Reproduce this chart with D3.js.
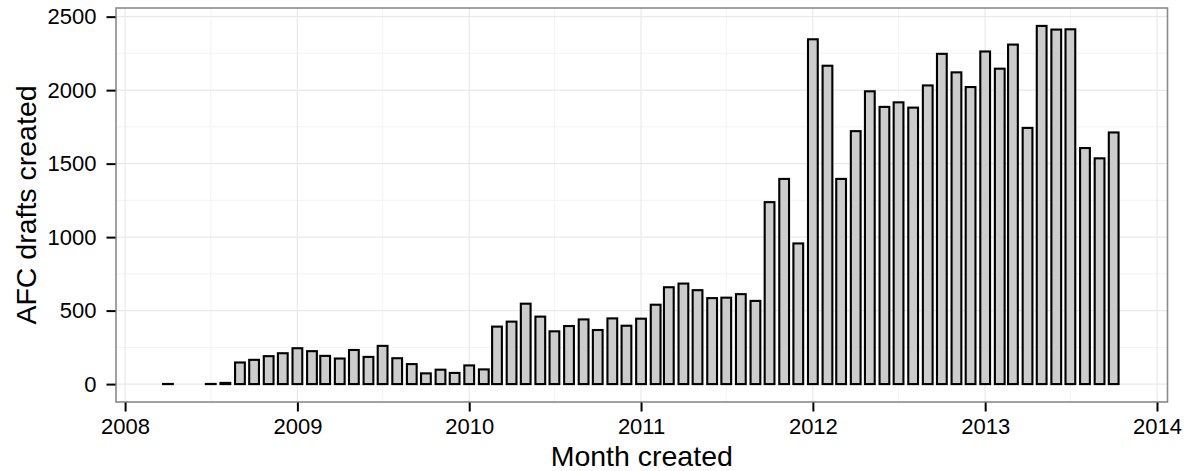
<!DOCTYPE html>
<html>
<head>
<meta charset="utf-8">
<script src="https://cdn.jsdelivr.net/npm/d3@7"></script>
<style>
  html, body { margin: 0; padding: 0; background: #fff; }
  svg { display: block; font-family: "Liberation Sans", Arial, Helvetica, sans-serif; }
</style>
</head>
<body>
<svg id="chart" width="1186" height="471"></svg>
<script>
// ---- data ----
const months = [
  "2008-04","2008-07","2008-08","2008-09","2008-10","2008-11","2008-12",
  "2009-01","2009-02","2009-03","2009-04","2009-05","2009-06","2009-07","2009-08","2009-09","2009-10","2009-11","2009-12",
  "2010-01","2010-02","2010-03","2010-04","2010-05","2010-06","2010-07","2010-08","2010-09","2010-10","2010-11","2010-12",
  "2011-01","2011-02","2011-03","2011-04","2011-05","2011-06","2011-07","2011-08","2011-09","2011-10","2011-11","2011-12",
  "2012-01","2012-02","2012-03","2012-04","2012-05","2012-06","2012-07","2012-08","2012-09","2012-10","2012-11","2012-12",
  "2013-01","2013-02","2013-03","2013-04","2013-05","2013-06","2013-07","2013-08","2013-09","2013-10"
];
const drafts = [
  1, 1, 8, 147, 165, 190, 210,
  244, 224, 192, 174, 232, 185, 260, 176, 136, 73, 98, 76,
  127, 100, 391, 425, 547, 459, 359, 395, 440, 368, 447, 397,
  445, 540, 659, 684, 639, 585, 588, 612, 566, 1238, 1396, 957,
  2346, 2166, 1396, 1721, 1992, 1886, 1917, 1881, 2032, 2247, 2121, 2021,
  2263, 2146, 2310, 1743, 2437, 2412, 2414, 1606, 1536, 1712
];
const yTicks = [0, 500, 1000, 1500, 2000, 2500];
const yMinor = [250, 750, 1250, 1750, 2250];
const xTickYears = [2008, 2009, 2010, 2011, 2012, 2013, 2014];
const xTitle = "Month created";
const yTitle = "AFC drafts created";

// ---- layout ----
const panel = { left: 116, right: 1167.5, top: 8, bottom: 402 };
const DAY = 86400000;
const parse = d3.timeParse("%Y-%m");
const data = months.map((m, i) => ({ date: parse(m), value: drafts[i] }));

const halfW = 12.6 * DAY; // 0.9 * 28 days / 2
const xmin = d3.min(data, d => +d.date) - halfW;
const xmax = d3.max(data, d => +d.date) + halfW;
const xpad = (xmax - xmin) * 0.05;
const x = d3.scaleTime()
  .domain([new Date(xmin - xpad + 4 * DAY), new Date(xmax + xpad)])
  .range([panel.left, panel.right]);

const ymaxV = d3.max(drafts);
const ypad = ymaxV * 0.05;
const y = d3.scaleLinear()
  .domain([-ypad, ymaxV + ypad])
  .range([panel.bottom, panel.top]);

const svg = d3.select("#chart");

// panel background
svg.append("rect")
  .attr("x", panel.left).attr("y", panel.top)
  .attr("width", panel.right - panel.left).attr("height", panel.bottom - panel.top)
  .attr("fill", "#fff");

const grid = svg.append("g");
// minor grid
const minorX = xTickYears.slice(0, -1).map(yr => new Date(yr, 6, 1));
grid.selectAll(".mx").data(minorX).enter().append("line")
  .attr("x1", d => x(d)).attr("x2", d => x(d))
  .attr("y1", panel.top).attr("y2", panel.bottom)
  .attr("stroke", "#f5f5f5").attr("stroke-width", 1.2);
grid.selectAll(".my").data(yMinor).enter().append("line")
  .attr("x1", panel.left).attr("x2", panel.right)
  .attr("y1", d => y(d)).attr("y2", d => y(d))
  .attr("stroke", "#f5f5f5").attr("stroke-width", 1.2);
// major grid
grid.selectAll(".Mx").data(xTickYears).enter().append("line")
  .attr("x1", d => x(new Date(d, 0, 1))).attr("x2", d => x(new Date(d, 0, 1)))
  .attr("y1", panel.top).attr("y2", panel.bottom)
  .attr("stroke", "#e9e9e9").attr("stroke-width", 1.2);
grid.selectAll(".My").data(yTicks).enter().append("line")
  .attr("x1", panel.left).attr("x2", panel.right)
  .attr("y1", d => y(d)).attr("y2", d => y(d))
  .attr("stroke", "#e9e9e9").attr("stroke-width", 1.2);

// bars
const sw = 2.1;
svg.append("g").selectAll("rect").data(data).enter().append("rect")
  .attr("x", d => x(new Date(+d.date - halfW)) + sw / 2)
  .attr("width", d => x(new Date(+d.date + halfW)) - x(new Date(+d.date - halfW)) - sw)
  .attr("y", d => y(d.value))
  .attr("height", d => y(0) - y(d.value))
  .attr("fill", "#cccccc")
  .attr("stroke", "#000")
  .attr("stroke-width", sw);

// panel border
svg.append("rect")
  .attr("x", panel.left).attr("y", panel.top)
  .attr("width", panel.right - panel.left).attr("height", panel.bottom - panel.top)
  .attr("fill", "none").attr("stroke", "#8a8a8a").attr("stroke-width", 1.6);

// y axis
const yAxis = d3.axisLeft(y).tickValues(yTicks).tickSize(9).tickPadding(10).tickFormat(d3.format("d"));
const gy = svg.append("g").attr("transform", `translate(${panel.left - 0.5},0)`).call(yAxis);
gy.select(".domain").remove();
gy.selectAll(".tick line").attr("stroke", "#000").attr("stroke-width", 2);
gy.selectAll(".tick text").attr("fill", "#000").style("font-size", "22px")
  .style("font-family", '"Liberation Sans", Arial, sans-serif');

// x axis
const xAxis = d3.axisBottom(x)
  .tickValues(xTickYears.map(yr => new Date(yr, 0, 1)))
  .tickSize(9).tickPadding(7).tickFormat(d3.timeFormat("%Y"));
const gx = svg.append("g").attr("transform", `translate(0,${panel.bottom + 0.5})`).call(xAxis);
gx.select(".domain").remove();
gx.selectAll(".tick line").attr("stroke", "#000").attr("stroke-width", 2);
gx.selectAll(".tick text").attr("fill", "#000").style("font-size", "22px")
  .style("font-family", '"Liberation Sans", Arial, sans-serif');

// titles
svg.append("text")
  .attr("x", (panel.left + panel.right) / 2).attr("y", 466)
  .attr("text-anchor", "middle")
  .style("font-size", "28.5px").attr("fill", "#000")
  .text(xTitle);
svg.append("text")
  .attr("transform", `translate(36,${(panel.top + panel.bottom) / 2}) rotate(-90)`)
  .attr("text-anchor", "middle")
  .style("font-size", "28.5px").attr("fill", "#000")
  .text(yTitle);
</script>
</body>
</html>
